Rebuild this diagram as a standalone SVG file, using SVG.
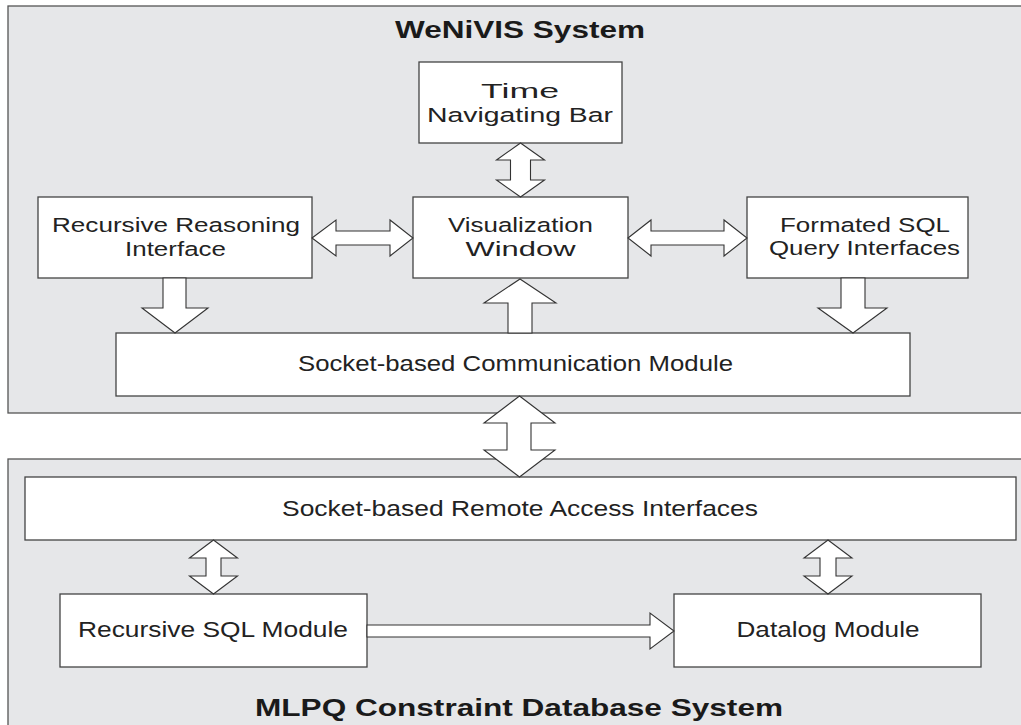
<svg xmlns="http://www.w3.org/2000/svg" width="1021" height="725" viewBox="0 0 1021 725">
<style>
.sys{fill:#e6e7e9;stroke:#555;stroke-width:1.3}
.box{fill:#fff;stroke:#444;stroke-width:1.3}
.t{font-family:"Liberation Sans",Arial,sans-serif;font-size:22px;fill:#222;text-anchor:middle}
.t2{font-family:"Liberation Sans",Arial,sans-serif;font-size:20.5px;fill:#222;text-anchor:middle}
.b{font-family:"Liberation Sans",Arial,sans-serif;font-size:24px;font-weight:bold;fill:#1a1a1a;text-anchor:middle}
.arr{fill:#fff;stroke:#333;stroke-width:1.1;stroke-linejoin:miter}
</style>
<rect width="1021" height="725" fill="#fff"/>
<g id="wenivis-system">
<rect class="sys" x="8" y="6" width="1030" height="407"/>
<text class="b" x="520" y="38" textLength="250" lengthAdjust="spacingAndGlyphs">WeNiVIS System</text>
</g>
<g id="mlpq-system">
<rect class="sys" x="8" y="459" width="1030" height="290"/>
<text class="b" x="519" y="716" textLength="528" lengthAdjust="spacingAndGlyphs">MLPQ Constraint Database System</text>
</g>
<g id="time-bar">
<rect class="box" x="419" y="62" width="203" height="81"/>
<text class="t2" x="520" y="98" textLength="78" lengthAdjust="spacingAndGlyphs">Time</text>
<text class="t2" x="520" y="122" textLength="186" lengthAdjust="spacingAndGlyphs">Navigating Bar</text>
</g>
<g id="recursive-reasoning">
<rect class="box" x="38" y="197" width="274" height="81"/>
<text class="t2" x="176" y="232" textLength="248" lengthAdjust="spacingAndGlyphs">Recursive Reasoning</text>
<text class="t2" x="175.5" y="256" textLength="101" lengthAdjust="spacingAndGlyphs">Interface</text>
</g>
<g id="visualization-window">
<rect class="box" x="413" y="197" width="215" height="81"/>
<text class="t2" x="520.5" y="232" textLength="145" lengthAdjust="spacingAndGlyphs">Visualization</text>
<text class="t2" x="520.5" y="256" textLength="110" lengthAdjust="spacingAndGlyphs">Window</text>
</g>
<g id="formated-sql">
<rect class="box" x="747" y="197" width="221" height="81"/>
<text class="t2" x="865" y="232" textLength="170" lengthAdjust="spacingAndGlyphs">Formated SQL</text>
<text class="t2" x="864.5" y="255" textLength="191" lengthAdjust="spacingAndGlyphs">Query Interfaces</text>
</g>
<g id="comm-module">
<rect class="box" x="116" y="333" width="794" height="63"/>
<text class="t" x="515.5" y="371" textLength="435" lengthAdjust="spacingAndGlyphs">Socket-based Communication Module</text>
</g>
<g id="remote-access">
<rect class="box" x="25" y="477" width="991" height="63"/>
<text class="t" x="520" y="516" textLength="476" lengthAdjust="spacingAndGlyphs">Socket-based Remote Access Interfaces</text>
</g>
<g id="recursive-sql">
<rect class="box" x="60" y="594" width="307" height="73"/>
<text class="t" x="213" y="637" textLength="270" lengthAdjust="spacingAndGlyphs">Recursive SQL Module</text>
</g>
<g id="datalog">
<rect class="box" x="674" y="594" width="307" height="73"/>
<text class="t" x="828" y="637" textLength="183" lengthAdjust="spacingAndGlyphs">Datalog Module</text>
</g>
<g id="connectors">
<polygon class="arr" points="520.5,143 544.5,160 530.5,160 530.5,180 544.5,180 520.5,197 496.5,180 510.5,180 510.5,160 496.5,160"/>
<polygon class="arr" points="312,238 336,220 336,231 390,231 390,220 413,238 390,256 390,245 336,245 336,256"/>
<polygon class="arr" points="628,238 651,220 651,231 724,231 724,220 747,238 724,256 724,245 651,245 651,256"/>
<polygon class="arr" points="163,278 186,278 186,308 208,308 175,333 142,308 163,308"/>
<polygon class="arr" points="520,279 556,303 532,303 532,333 508,333 508,303 484,303"/>
<polygon class="arr" points="841,278 865,278 865,308 887,308 853,333 818,308 841,308"/>
<polygon class="arr" points="519.5,396 555,423 531,423 531,450 555,450 519.5,477 484,450 507,450 507,423 484,423"/>
<polygon class="arr" points="213.5,540 237.5,558 221,558 221,576 237.5,576 213.5,594 189.5,576 206,576 206,558 189.5,558"/>
<polygon class="arr" points="828,540 852,558 836,558 836,576 852,576 828,594 804,576 820,576 820,558 804,558"/>
<polygon class="arr" points="367,625 650,625 650,613 674,631 650,649 650,637 367,637"/>
</g>
</svg>
